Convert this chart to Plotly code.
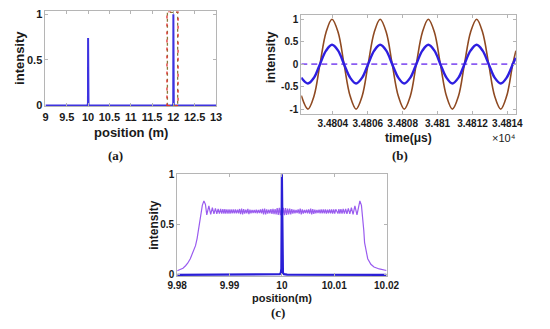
import plotly.graph_objects as go

# ---------------- data ----------------
# (a) position scan
a_pos = [9.0, 9.97, 9.99, 9.997, 10.0, 10.003, 10.01, 10.03, 11.97, 11.99, 11.997, 12.0, 12.003, 12.01, 12.03, 13.0]
a_int = [0.0, 0.0, 0.004, 0.03, 0.74, 0.03, 0.004, 0.0, 0.0, 0.004, 0.03, 1.0, 0.03, 0.004, 0.0, 0.0]
a_roi_red = [11.85, 12.11, 0.0, 1.028]
a_roi_olive = [11.86, 12.10, 0.0, 1.02]
a_xticks = [9, 9.5, 10, 10.5, 11, 11.5, 12, 12.5, 13]
a_xticktext = ["9", "9.5", "10", "10.5", "11", "11.5", "12", "12.5", "13"]

# (b) time traces (time in us, read at peaks, zero crossings and eighth periods)
b_time = [34802.19, 34802.57, 34802.92, 34803.26, 34803.61, 34803.95, 34804.30, 34804.64,
          34804.99, 34805.33, 34805.68, 34806.02, 34806.37, 34806.71, 34807.06, 34807.40,
          34807.75, 34808.09, 34808.44, 34808.78, 34809.13, 34809.47, 34809.82, 34810.16,
          34810.51, 34810.85, 34811.20, 34811.54, 34811.89, 34812.24, 34812.58, 34812.93,
          34813.27, 34813.62, 34813.96, 34814.31, 34814.49]
b_ref = [-0.70, -1.0, -0.71, 0.0, 0.71, 1.0, 0.71, 0.0,
         -0.71, -1.0, -0.71, 0.0, 0.71, 1.0, 0.71, 0.0,
         -0.71, -1.0, -0.71, 0.0, 0.71, 1.0, 0.71, 0.0,
         -0.71, -1.0, -0.71, 0.0, 0.71, 1.0, 0.71, 0.0,
         -0.71, -1.0, -0.71, 0.0, 0.30]
b_sig = [-0.30, -0.43, -0.30, 0.0, 0.30, 0.43, 0.30, 0.0,
         -0.30, -0.43, -0.30, 0.0, 0.30, 0.43, 0.30, 0.0,
         -0.30, -0.43, -0.30, 0.0, 0.30, 0.43, 0.30, 0.0,
         -0.30, -0.43, -0.30, 0.0, 0.30, 0.43, 0.30, 0.0,
         -0.30, -0.43, -0.30, 0.0, 0.14]
b_zero_t = [34802.19, 34814.49]
b_zero_v = [0.0, 0.0]
b_xticks = [34804, 34806, 34808, 34810, 34812, 34814]
b_xticktext = ["3.4804", "3.4806", "3.4808", "3.481", "3.4812", "3.4814"]

# (c) zoomed position scan
c_pos = [
    9.9800, 9.9806, 9.9811, 9.9816, 9.9820, 9.9825, 9.9830, 9.9835, 9.9838, 9.9841,
    9.9843, 9.9845, 9.9848, 9.9851, 9.9854, 9.98565, 9.98605, 9.98640, 9.98672, 9.98702,
    9.98730, 9.98757, 9.98782, 9.98806, 9.98829, 9.98851, 9.98872, 9.98892, 9.98911, 9.98929,
    9.9895, 9.9897, 9.9899, 9.9901, 9.9903, 9.9905, 9.9907, 9.9909, 9.9911, 9.9913,
    9.9915, 9.9917, 9.9919, 9.9921, 9.9923, 9.9925, 9.9927, 9.9929, 9.9931, 9.9933,
    9.9935, 9.9937, 9.9939, 9.9941, 9.9943, 9.9945, 9.9947, 9.9949, 9.9951, 9.9953,
    9.9955, 9.9957, 9.9959, 9.9961, 9.9963, 9.9965, 9.9967, 9.9969, 9.9971, 9.9973,
    9.9975, 9.9977, 9.9979, 9.9981, 9.9983, 9.9985, 9.9987, 9.9989, 9.9991, 9.9993,
    9.9995, 9.9997, 9.9999, 10.0001,
    10.0003, 10.0005, 10.0007, 10.0009, 10.0011, 10.0013, 10.0015, 10.0017, 10.0019, 10.0021,
    10.0023, 10.0025, 10.0027, 10.0029, 10.0031, 10.0033, 10.0035, 10.0037, 10.0039, 10.0041,
    10.0043, 10.0045, 10.0047, 10.0049, 10.0051, 10.0053, 10.0055, 10.0057, 10.0059, 10.0061,
    10.0063, 10.0065, 10.0067, 10.0069, 10.0071, 10.0073, 10.0075, 10.0077, 10.0079, 10.0081,
    10.0083, 10.0085, 10.0087, 10.0089, 10.0091, 10.0093, 10.0095, 10.0097, 10.0099, 10.0101,
    10.0103,
    10.01071, 10.01089, 10.01108, 10.01128, 10.01149, 10.01171, 10.01194, 10.01218, 10.01243, 10.01270,
    10.01298, 10.01328, 10.01360, 10.01395, 10.01435, 10.01490,
    10.0152, 10.0155, 10.01565, 10.0158, 10.0161, 10.0164, 10.0170, 10.0176, 10.0186, 10.0196,
    10.0200]
c_wide = [
    0.040, 0.050, 0.065, 0.090, 0.115, 0.160, 0.220, 0.290, 0.360, 0.450,
    0.530, 0.610, 0.690, 0.735, 0.700, 0.595, 0.685, 0.600, 0.668, 0.606,
    0.660, 0.607, 0.656, 0.608, 0.654, 0.608, 0.653, 0.608, 0.652, 0.609,
    0.651, 0.609, 0.651, 0.609, 0.649, 0.611, 0.649, 0.611, 0.649, 0.611,
    0.648, 0.612, 0.654, 0.603, 0.659, 0.600, 0.652, 0.608, 0.648, 0.612,
    0.656, 0.603, 0.648, 0.612, 0.646, 0.614, 0.646, 0.614, 0.648, 0.612,
    0.646, 0.614, 0.649, 0.611, 0.656, 0.601, 0.659, 0.600, 0.651, 0.608,
    0.648, 0.612, 0.652, 0.606, 0.656, 0.603, 0.654, 0.601, 0.662, 0.595,
    0.665, 0.593, 0.662, 0.595,
    0.665, 0.593, 0.662, 0.596, 0.657, 0.601, 0.659, 0.600, 0.652, 0.608,
    0.648, 0.612, 0.646, 0.614, 0.651, 0.608, 0.657, 0.601, 0.651, 0.609,
    0.646, 0.614, 0.648, 0.612, 0.651, 0.608, 0.657, 0.601, 0.654, 0.606,
    0.648, 0.612, 0.646, 0.614, 0.648, 0.612, 0.649, 0.611, 0.649, 0.611,
    0.651, 0.609, 0.648, 0.612, 0.649, 0.611, 0.649, 0.609, 0.651, 0.609,
    0.651,
    0.609, 0.652, 0.608, 0.653, 0.608, 0.654, 0.608, 0.656, 0.607, 0.660,
    0.606, 0.668, 0.600, 0.685, 0.595, 0.735,
    0.690, 0.550, 0.440, 0.320, 0.220, 0.160, 0.105, 0.078, 0.058, 0.046,
    0.043]
c_spike_pos = [9.98, 9.999, 9.9996, 9.9998, 9.9999, 10.0, 10.0001, 10.0002, 10.0004, 10.001, 10.02]
c_spike_int = [0.0, 0.001, 0.006, 0.02, 0.06, 1.0, 0.06, 0.02, 0.006, 0.001, 0.0]
c_xticks = [9.98, 9.99, 10.0, 10.01, 10.02]
c_xticktext = ["9.98", "9.99", "10", "10.01", "10.02"]

# ---------------- styling ----------------
W, H = 550, 329
SANS = "Liberation Sans, Arial, sans-serif"
SERIF = "Liberation Serif, Times New Roman, serif"
AXC = "#b5b5b5"
TXT = "#1a1a1a"


def px_dom_x(a, b):
    return [a / W, b / W]


def px_dom_y(top, bottom):
    return [1 - bottom / H, 1 - top / H]


fig = go.Figure()

# (a)
fig.add_trace(go.Scatter(x=a_pos, y=a_int, mode="lines", xaxis="x", yaxis="y",
                         line=dict(color="#3d33e0", width=2), showlegend=False))
# (b)
fig.add_trace(go.Scatter(x=b_time, y=b_ref, mode="lines", xaxis="x2", yaxis="y2",
                         line=dict(color="#8f4a22", width=1.6, shape="spline", smoothing=1.0),
                         showlegend=False))
fig.add_trace(go.Scatter(x=b_zero_t, y=b_zero_v, mode="lines", xaxis="x2", yaxis="y2",
                         line=dict(color="#8a5cf2", width=1.6, dash="6px,4px"), showlegend=False))
fig.add_trace(go.Scatter(x=b_time, y=b_sig, mode="lines", xaxis="x2", yaxis="y2",
                         line=dict(color="#2e1fe0", width=2.4, shape="spline", smoothing=1.0),
                         showlegend=False))
# (c)
fig.add_trace(go.Scatter(x=c_pos, y=c_wide, mode="lines", xaxis="x3", yaxis="y3",
                         line=dict(color="#9a5cef", width=1.2), showlegend=False))
fig.add_trace(go.Scatter(x=c_spike_pos, y=c_spike_int, mode="lines", xaxis="x3", yaxis="y3",
                         line=dict(color="#2a1fd6", width=2.2), showlegend=False))

axis_common = dict(showline=True, linecolor=AXC, linewidth=1, mirror="ticks",
                   ticks="inside", ticklen=3, tickcolor=AXC, showgrid=False, zeroline=False,
                   tickfont=dict(family=SANS, size=11, color=TXT, weight="bold"))

fig.update_layout(
    width=W, height=H, margin=dict(l=0, r=0, t=0, b=0),
    paper_bgcolor="white", plot_bgcolor="white",
    xaxis=dict(axis_common, domain=px_dom_x(37, 215), anchor="y", range=[9, 13],
               tickvals=a_xticks, ticktext=a_xticktext),
    yaxis=dict(axis_common, domain=px_dom_y(6.7, 104.5), anchor="x", range=[-0.008, 1.03],
               tickvals=[0, 0.5, 1], ticktext=["0", "0.5", "1"]),
    xaxis2=dict(axis_common, domain=px_dom_x(304, 528), anchor="y2", range=[34802.19, 34814.49],
                tickvals=b_xticks, ticktext=b_xticktext,
                tickfont=dict(family=SANS, size=10, color=TXT, weight="bold")),
    yaxis2=dict(axis_common, domain=px_dom_y(10, 112), anchor="x2", range=[-1.1, 1.1],
                tickvals=[-1, -0.5, 0, 0.5, 1], ticktext=["-1", "-0.5", "0", "0.5", "1"],
                tickfont=dict(family=SANS, size=10, color=TXT, weight="bold")),
    xaxis3=dict(axis_common, domain=px_dom_x(174.5, 393), anchor="y3", range=[9.98, 10.02],
                tickvals=c_xticks, ticktext=c_xticktext,
                tickfont=dict(family=SANS, size=10, color=TXT, weight="bold")),
    yaxis3=dict(axis_common, domain=px_dom_y(174, 279.5), anchor="x3", range=[-0.012, 1.005],
                tickvals=[0, 0.5, 1], ticktext=["0", "0.5", "1"],
                tickfont=dict(family=SANS, size=10, color=TXT, weight="bold")),
)

# dashed region of interest in (a)
fig.add_shape(type="rect", xref="x", yref="y", x0=a_roi_olive[0], x1=a_roi_olive[1],
              y0=a_roi_olive[2], y1=a_roi_olive[3], line=dict(color="#8a7a3a", width=1.3, dash="3px,3px"))
fig.add_shape(type="rect", xref="x", yref="y", x0=a_roi_red[0], x1=a_roi_red[1],
              y0=a_roi_red[2], y1=a_roi_red[3], line=dict(color="#e03030", width=1.3, dash="3px,5px"))


def ann(text, x, y, size, family=SANS, bold=True, angle=0, color=TXT):
    fig.add_annotation(text=text, x=x / W, y=1 - y / H, xref="paper", yref="paper",
                       showarrow=False, textangle=angle, xanchor="center", yanchor="middle",
                       font=dict(family=family, size=size, color=color,
                                 weight="bold" if bold else "normal"))


ann("position (m)", 126, 131, 13)
ann("intensity", 10, 55, 13, angle=-90)
ann("(a)", 110, 155, 13, family=SERIF)
ann("time(μs)", 415.5, 137, 12)
ann("×10⁴", 516, 137, 11, bold=False)
ann("intensity", 273, 54, 12.5, angle=-90)
ann("(b)", 407.5, 155, 13, family=SERIF)
ann("position(m)", 284, 302, 11)
ann("intensity", 150, 227, 12, angle=-90)
ann("(c)", 279.5, 317, 13, family=SERIF)

# remove the default page margin so the 550x329 figure fills the window exactly
fig.write_html("out.html", config={"displayModeBar": False},
               post_script="document.body.style.margin='0';")
